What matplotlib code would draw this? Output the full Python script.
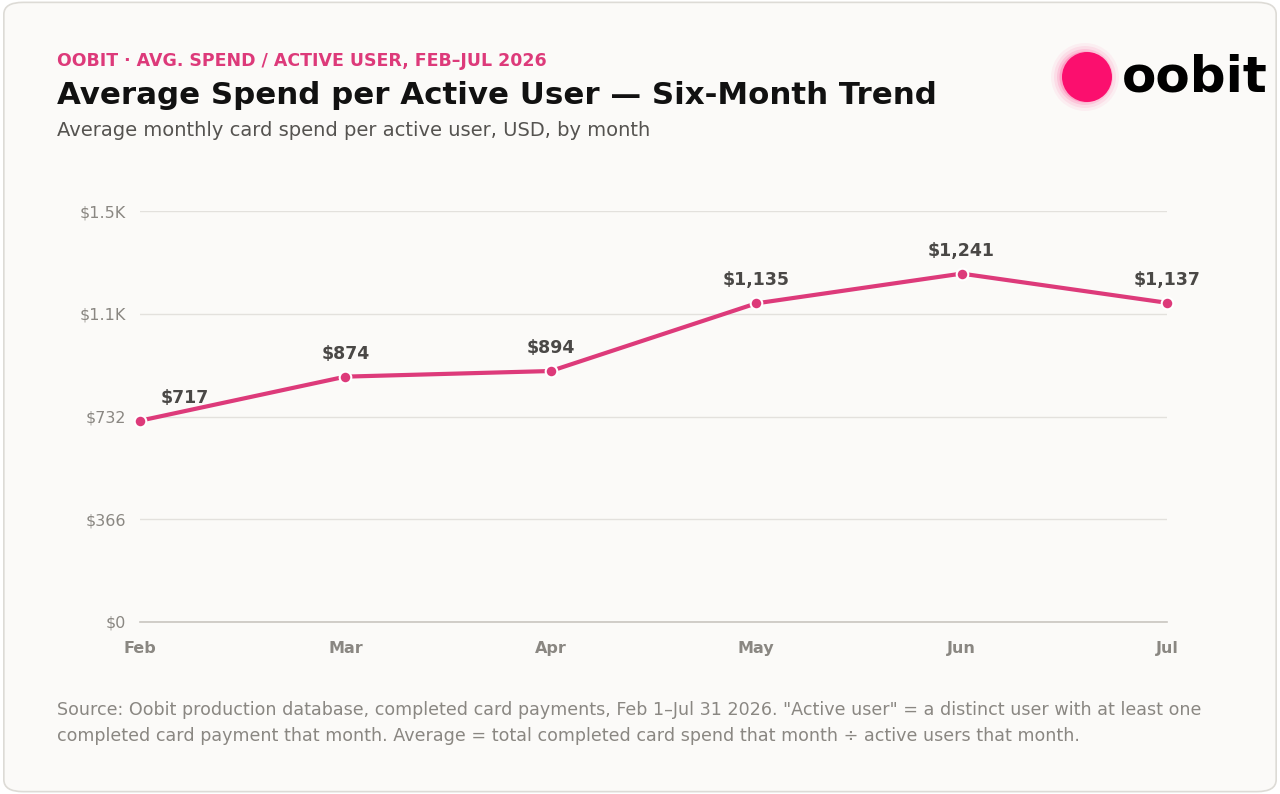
import matplotlib
matplotlib.use("Agg")
import matplotlib.pyplot as plt
from matplotlib.patches import FancyBboxPatch, Circle

months = ["Feb", "Mar", "Apr", "May", "Jun", "Jul"]
spend = [717, 874, 894, 1135, 1241, 1137]
tick_vals = [0, 366, 732, 1098, 1464]
tick_labels = ["$0", "$366", "$732", "$1.1K", "$1.5K"]

PINK = "#dd3a7a"
BG = "#fbfaf8"

fig = plt.figure(figsize=(12.8, 7.94), dpi=100)
fig.patch.set_facecolor("white")
card = FancyBboxPatch((0.003, 0.003), 0.994, 0.994, boxstyle="round,pad=0,rounding_size=0.015",
                      transform=fig.transFigure, facecolor=BG, edgecolor="#dddbd6", lw=1.2,
                      zorder=-10)
fig.patches.append(card)

ax = fig.add_axes([140/1280, 1-622/794, (1167-140)/1280, (622-211)/794])
ax.set_facecolor(BG)
x = list(range(len(months)))
ax.plot(x, spend, color=PINK, lw=3, zorder=3, clip_on=False)
ax.scatter(x, spend, s=70, color=PINK, edgecolor="white", linewidth=1.5, zorder=4, clip_on=False)
for xi, v in zip(x, spend):
    ax.annotate(f"${v:,}", (xi, v), xytext=(0 if xi else 15, 10), textcoords="offset points",
                ha="center" if xi else "left", va="bottom", fontsize=12.5, fontweight="bold", color="#4a4846")

ax.set_xlim(0, 5)
ax.set_ylim(0, 1464)
ax.set_yticks(tick_vals)
ax.set_yticklabels(tick_labels)
ax.set_xticks(x)
ax.set_xticklabels(months, fontweight="bold")
ax.tick_params(axis="both", length=0, colors="#8a8782", labelsize=11.5)
ax.tick_params(axis="x", pad=14)
ax.tick_params(axis="y", pad=10)
ax.grid(axis="y", color="#e3e1dd", lw=1)
ax.set_axisbelow(True)
for s in ["top", "right", "left"]:
    ax.spines[s].set_visible(False)
ax.spines["bottom"].set_color("#c9c6c0")
ax.spines["bottom"].set_linewidth(1.2)

fig.text(57/1280, 1-61/794, "OOBIT · AVG. SPEND / ACTIVE USER, FEB–JUL 2026", color=PINK,
         fontsize=12.5, fontweight="bold", va="center")
fig.text(57/1280, 1-95/794, "Average Spend per Active User — Six-Month Trend", color="#111111",
         fontsize=22.2, fontweight="bold", va="center")
fig.text(57/1280, 1-130/794, "Average monthly card spend per active user, USD, by month",
         color="#555350", fontsize=14, va="center")
fig.text(57/1280, 1-723/794,
         'Source: Oobit production database, completed card payments, Feb 1–Jul 31 2026. "Active user" = a distinct user with at least one\n'
         'completed card payment that month. Average = total completed card spend that month ÷ active users that month.',
         color="#8a8782", fontsize=12.6, va="center", linespacing=1.6)

# logo
lax = fig.add_axes([1040/1280, 1-130/794, 230/1280, 100/794])
lax.set_xlim(0, 230)
lax.set_ylim(0, 100)
lax.set_aspect("equal")
lax.axis("off")
for r, a in [(34, 0.05), (31, 0.08), (28, 0.12), (25.5, 0.2)]:
    lax.add_patch(Circle((45, 53), r, color="#ff1f7a", alpha=a, lw=0))
lax.add_patch(Circle((47, 53), 25, color="#fb0f6e", lw=0))
lax.text(82, 53, "oobit", fontsize=36, fontweight="bold", color="black", va="center", ha="left")

fig.savefig("out.png", dpi=100, facecolor="white")
